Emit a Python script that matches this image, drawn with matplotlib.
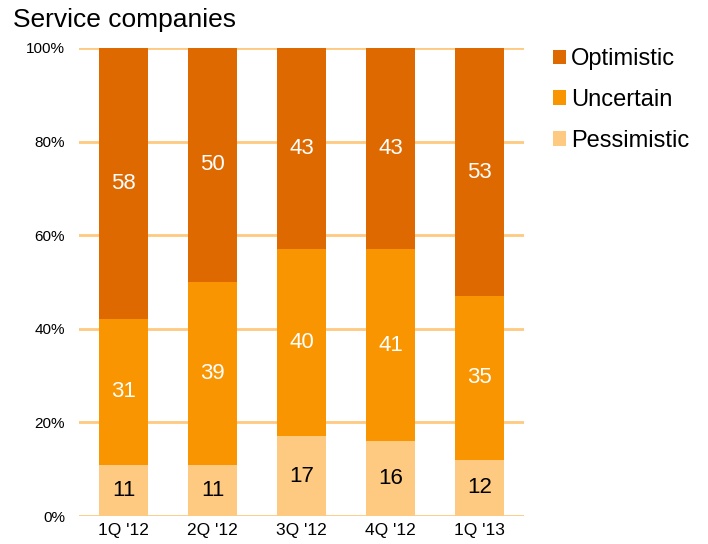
import matplotlib.pyplot as plt
import numpy as np

plt.rcParams["font.family"] = ["Liberation Sans", "DejaVu Sans"]

quarters = ["1Q '12", "2Q '12", "3Q '12", "4Q '12", "1Q '13"]
pessimistic = [11, 11, 17, 16, 12]
uncertain = [31, 39, 40, 41, 35]
optimistic = [58, 50, 43, 43, 53]

series = [
    ("Pessimistic", pessimistic, "#FEC980", "black"),
    ("Uncertain", uncertain, "#F99500", "white"),
    ("Optimistic", optimistic, "#DD6900", "white"),
]

fig = plt.figure(figsize=(7.08, 5.44), dpi=100)
ax = fig.add_axes([79 / 708, 28 / 544, 445 / 708, 468 / 544])

x = np.arange(len(quarters))
bottom = np.zeros(len(quarters))
handles = {}
for name, vals, color, txt_color in series:
    vals = np.array(vals, dtype=float)
    bars = ax.bar(x, vals, 0.56, bottom=bottom, color=color, zorder=3)
    handles[name] = bars
    for xi, b, v in zip(x, bottom, vals):
        ax.text(xi, b + v / 2, f"{int(v)}", ha="center", va="center",
                fontsize=16, color=txt_color, zorder=4)
    bottom += vals

ax.set_xlim(-0.5, len(quarters) - 0.5)
ax.set_ylim(0, 100)
ax.set_yticks(np.arange(0, 101, 20))
ax.set_yticklabels([f"{v}%" for v in range(0, 101, 20)], fontsize=11)
ax.set_xticks(x)
ax.set_xticklabels(quarters, fontsize=12.5)
ax.tick_params(axis="both", length=0)
ax.tick_params(axis="y", pad=10)
ax.tick_params(axis="x", pad=5)
ax.grid(axis="y", color="#FEC980", linewidth=2, zorder=0)
for s in ax.spines.values():
    s.set_visible(False)

fig.text(13 / 708, 1 - 20 / 544, "Service companies", fontsize=19,
         ha="left", va="center")

order = ["Optimistic", "Uncertain", "Pessimistic"]
fig.legend([handles[n] for n in order], order, loc="upper left",
           bbox_to_anchor=(553 / 708, 1 - 48 / 544), frameon=False,
           fontsize=17, handlelength=0.55, handleheight=0.55,
           handletextpad=0.2, labelspacing=0.8, borderaxespad=0,
           borderpad=0)

fig.savefig("out.png", dpi=100)
